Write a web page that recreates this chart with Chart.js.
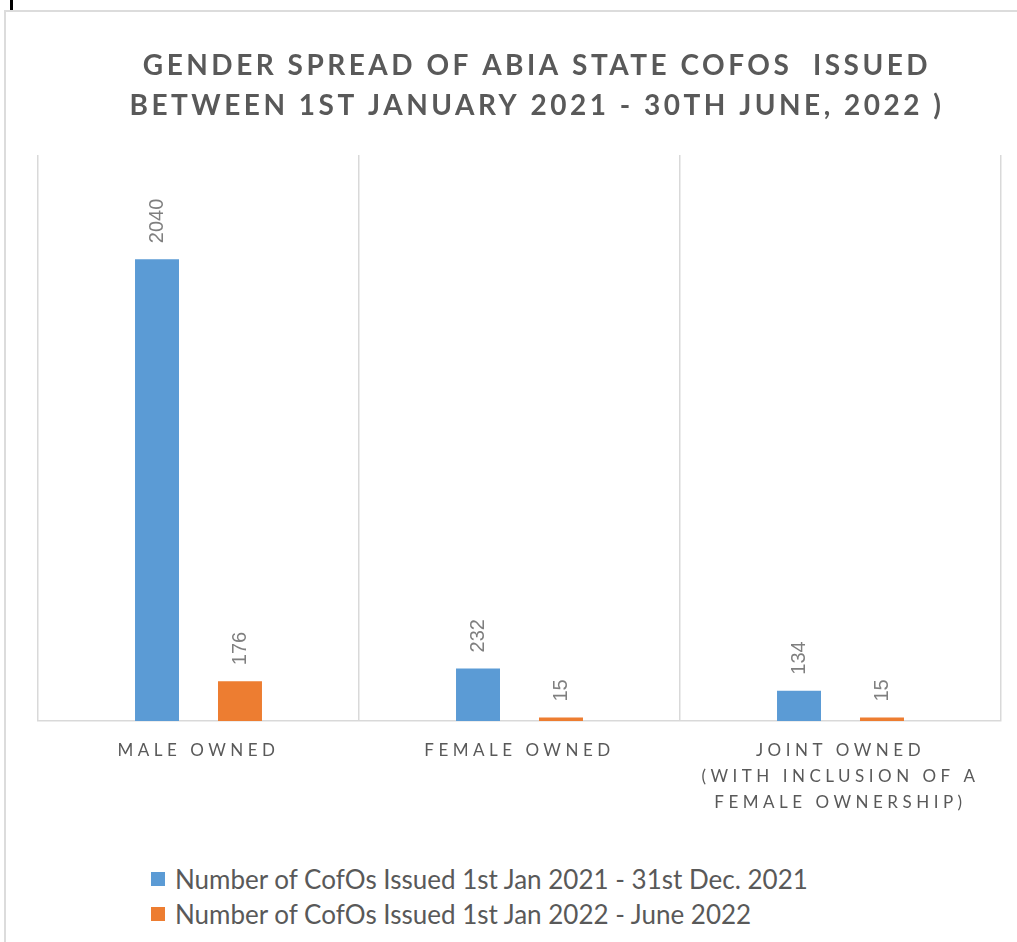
<!DOCTYPE html>
<html>
<head>
<meta charset="utf-8">
<script src="https://cdn.jsdelivr.net/npm/chart.js@4.4.0/dist/chart.umd.min.js"></script>
<style>
  body { margin: 0; background: #fff; width: 1017px; height: 942px; overflow: hidden; position: relative; font-family: Lato, sans-serif; }
  #card { position: absolute; left: 4px; top: 10px; width: 1100px; height: 1000px; border: 2px solid #dcdcdc; box-sizing: border-box; }
  #mark { position: absolute; left: 10px; top: 0; width: 3px; height: 10px; background: #000; }
  #wrap { position: absolute; left: 0; top: 0; width: 1017px; height: 838px; }
  #legend { position: absolute; left: 151px; top: 861px; color: #595959; font-size: 26px; }
  .item { display: flex; align-items: center; height: 35px; }
  .box { width: 14px; height: 14px; margin-right: 10px; }
</style>
</head>
<body>
<div id="card"></div>
<div id="mark"></div>
<div id="wrap"><canvas id="myChart"></canvas></div>
<div id="legend"></div>
<script>
// chart data
const categories = ["MALE OWNED", "FEMALE OWNED", ["JOINT OWNED", "(WITH INCLUSION OF A", "FEMALE OWNERSHIP)"]];
const seriesNames = [
  "Number of CofOs Issued 1st Jan 2021 - 31st Dec. 2021",
  "Number of CofOs Issued 1st Jan 2022 - June 2022"
];
const cofos2021 = [2040, 232, 134];
const cofos2022 = [176, 15, 15];
const titleLines = ["GENDER SPREAD OF ABIA STATE COFOS  ISSUED", "BETWEEN 1ST JANUARY 2021 - 30TH JUNE, 2022 )"];
const yMax = 2500;

const colors = ["#5B9BD5", "#ED7D31"];

Chart.defaults.font.family = "Lato";

// spaced out letters for the axis labels
const spacing = {
  id: "spacing",
  beforeDraw: (chart) => { chart.ctx.letterSpacing = "4.5px"; },
  beforeDatasetsDraw: (chart) => { chart.ctx.letterSpacing = "0px"; }
};

// rotated value labels above bars
const barValues = {
  id: "barValues",
  afterDatasetsDraw: (chart) => {
    const ctx = chart.ctx;
    ctx.save();
    ctx.letterSpacing = "0px";
    ctx.font = '20px "Liberation Sans"';
    ctx.fillStyle = "#7f7f7f";
    ctx.textAlign = "left";
    ctx.textBaseline = "middle";
    chart.data.datasets.forEach((ds, i) => {
      chart.getDatasetMeta(i).data.forEach((bar, j) => {
        ctx.save();
        ctx.translate(bar.x, bar.y - 16);
        ctx.rotate(-Math.PI / 2);
        ctx.fillText(String(ds.data[j]), 0, 0);
        ctx.restore();
      });
    });
    ctx.restore();
  }
};

const titleText = {
  id: "titleText",
  afterDraw: (chart) => {
    const ctx = chart.ctx;
    ctx.save();
    ctx.letterSpacing = "3.5px";
    ctx.font = "bold 28px Lato";
    ctx.fillStyle = "#595959";
    ctx.textAlign = "center";
    ctx.textBaseline = "alphabetic";
    titleLines.forEach((t, i) => ctx.fillText(t, 537, 75 + i * 40));
    ctx.restore();
  }
};

const chart = new Chart(document.getElementById("myChart"), {
  type: "bar",
  data: {
    labels: categories,
    datasets: [
      { label: seriesNames[0], data: cofos2021, backgroundColor: colors[0] },
      { label: seriesNames[1], data: cofos2022, backgroundColor: colors[1] }
    ]
  },
  options: {
    responsive: true,
    maintainAspectRatio: false,
    animation: false,
    categoryPercentage: 0.517,
    barPercentage: 0.53,
    layout: { padding: { top: 155, left: 38, right: 16, bottom: 5 } },
    plugins: {
      legend: { display: false },
      tooltip: { enabled: false },
      title: { display: false }
    },
    scales: {
      x: {
        grid: { display: true, color: "#d9d9d9", lineWidth: 1.5, drawTicks: false, offset: true },
        border: { display: true, color: "#d9d9d9", width: 1.5 },
        ticks: {
          color: "#595959",
          font: { size: 17, lineHeight: 1.53 },
          padding: 17,
          maxRotation: 0,
          autoSkip: false
        }
      },
      y: { display: false, min: 0, max: yMax }
    }
  },
  plugins: [spacing, barValues, titleText]
});

// legend
const legend = document.getElementById("legend");
seriesNames.forEach((name, i) => {
  const item = document.createElement("div");
  item.className = "item";
  item.innerHTML = '<span class="box" style="background:' + colors[i] + '"></span><span>' + name + "</span>";
  legend.appendChild(item);
});
</script>
</body>
</html>
